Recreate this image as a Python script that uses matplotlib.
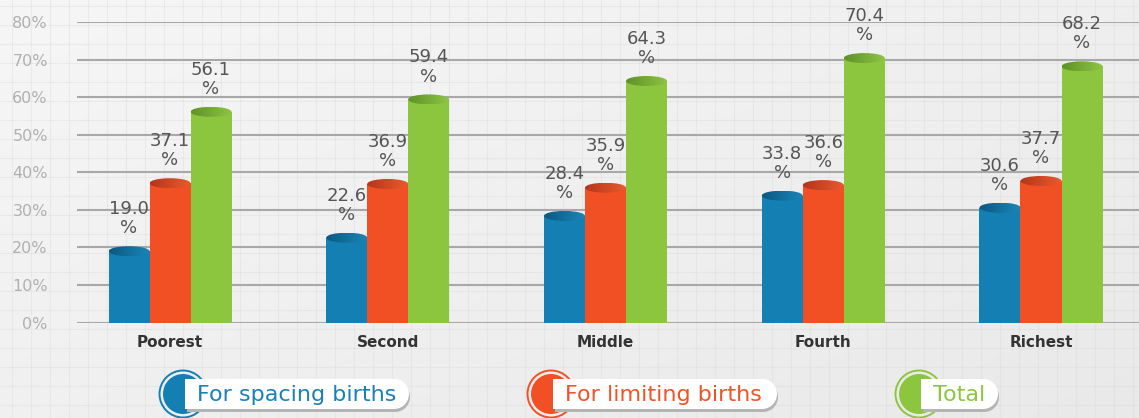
"""Unmet need for family planning by wealth quintile - cylinder bar chart."""
import matplotlib
matplotlib.use("Agg")
import matplotlib.pyplot as plt
import numpy as np
from matplotlib.patches import Ellipse, Circle, PathPatch
from matplotlib.path import Path

W, H = 1139, 418

quintiles = ["Poorest", "Second", "Middle", "Fourth", "Richest"]
spacing = [19.0, 22.6, 28.4, 33.8, 30.6]
limiting = [37.1, 36.9, 35.9, 36.6, 37.7]
total = [56.1, 59.4, 64.3, 70.4, 68.2]
series_names = ["For spacing births", "For limiting births", "Total"]
yticks = [0, 10, 20, 30, 40, 50, 60, 70, 80]

body_colors = ["#137fb3", "#f15025", "#8cc63f"]
cap_colors = [("#0b5880", "#1b86b8"), ("#b3361a", "#ea5a2e"), ("#5d9228", "#8fc444")]
text_colors = ["#1a80b6", "#f05326", "#8cc63f"]

fig = plt.figure(figsize=(W / 100, H / 100), dpi=100)

# background: soft grey gradient with faint square grid
bg = fig.add_axes([0, 0, 1, 1], zorder=0)
bg.set_xlim(0, W)
bg.set_ylim(H, 0)
bg.axis("off")
gx, gy = np.meshgrid(np.linspace(0, 1, 200), np.linspace(0, 1, 80))
shade = 0.965 - 0.05 * (0.55 * gx + 0.45 * gy)
bg.imshow(np.dstack([shade, shade, shade + 0.004]), extent=[0, W, H, 0],
          aspect="auto", interpolation="bilinear")
for v in np.arange(12, W, 19):
    bg.axvline(v, color="#d8d8d8", lw=0.8, alpha=0.35)
for h in np.arange(6, H, 19):
    bg.axhline(h, color="#d8d8d8", lw=0.8, alpha=0.35)

# main chart
left, right = 77 / W, 1.0
y0_px, y80_px = 322.6, 22.0
ax = fig.add_axes([left, (H - y0_px) / H, right - left, (y0_px - y80_px) / H], zorder=1)
ax.patch.set_alpha(0)
group_px = 217.75
x = np.arange(len(quintiles))
ax.set_xlim((77 - 170) / group_px, (W - 170) / group_px)
ax.set_ylim(0, 80)
bw = 41 / group_px
cap_h = 10 / 3.76

for s in ax.spines.values():
    s.set_visible(False)
ax.set_yticks(yticks)
ax.set_yticklabels([f"{t}%" for t in yticks])
ax.yaxis.grid(True, color="#a8a8a8", lw=1.5)
ax.set_axisbelow(True)
ax.tick_params(axis="y", length=0, pad=21, labelsize=11.5, labelcolor="#b0b0b0")
ax.set_xticks(x)
ax.set_xticklabels(quintiles, fontweight="bold", fontsize=11, color="#333333")
ax.tick_params(axis="x", length=0, pad=9)

grad = np.linspace(0, 1, 64).reshape(1, -1)
for k, vals in enumerate([spacing, limiting, total]):
    xs = x + (k - 1) * bw
    ax.bar(xs, vals, width=bw, color=body_colors[k], zorder=2, linewidth=0)
    c0, c1 = (np.array(matplotlib.colors.to_rgb(c)) for c in cap_colors[k])
    cap_img = c0[None, None, :] * (1 - grad[..., None]) + c1[None, None, :] * grad[..., None]
    for xi, v in zip(xs, vals):
        ell = Ellipse((xi, v), bw, cap_h, facecolor="none", edgecolor="none", zorder=3)
        ax.add_patch(ell)
        im = ax.imshow(cap_img, extent=[xi - bw / 2, xi + bw / 2, v - cap_h / 2, v + cap_h / 2],
                       aspect="auto", zorder=3, interpolation="bilinear")
        im.set_clip_path(ell)
        ax.annotate(f"{v:.1f}\n%", (xi, v), xytext=(0, 10), textcoords="offset points",
                    ha="center", va="bottom", fontsize=13, color="#555555",
                    linespacing=1.08, clip_on=False, zorder=4)

# legend pills
lg = fig.add_axes([0, 0, 1, 1], zorder=2)
lg.set_xlim(0, W)
lg.set_ylim(H, 0)
lg.axis("off")


def pill_path(x0, x1, yt, yb):
    r = (yb - yt) / 2
    cy = yt + r
    verts = [(x0, yt), (x1 - r, yt)]
    verts += [(x1 - r + r * np.cos(t), cy - r * np.sin(t))
              for t in np.linspace(np.pi / 2, -np.pi / 2, 40)]
    verts += [(x0, yb), (x0, yt)]
    codes = [Path.MOVETO] + [Path.LINETO] * (len(verts) - 2) + [Path.CLOSEPOLY]
    return Path(verts, codes)


legend_cx = [183, 551, 919]
pill_right = [409, 777, 998]
pill_grad = np.linspace(0, 1, 64).reshape(1, -1)
pill_img = np.dstack([0.90 + 0.1 * np.sqrt(pill_grad)] * 3)
for k, name in enumerate(series_names):
    cx, cy = legend_cx[k], 394
    lg.add_patch(Circle((cx, cy), 23.5, facecolor="none", edgecolor=body_colors[k], lw=1.4))
    lg.add_patch(Circle((cx, cy), 20, facecolor=body_colors[k], edgecolor="none"))
    x0 = cx + 2
    lg.add_patch(PathPatch(pill_path(x0 + 2, pill_right[k] + 1, 382, 412),
                           facecolor="#b4b4b4", edgecolor="none"))
    p = PathPatch(pill_path(x0, pill_right[k], 379, 409), facecolor="white", edgecolor="none")
    lg.add_patch(p)
    im = lg.imshow(pill_img, extent=[x0, pill_right[k], 409, 379], aspect="auto",
                   interpolation="bilinear")
    im.set_clip_path(p)
    lg.text(x0 + 12, cy + 1, name, fontsize=16, color=text_colors[k], va="center", ha="left")

fig.savefig("out.png", dpi=100)
